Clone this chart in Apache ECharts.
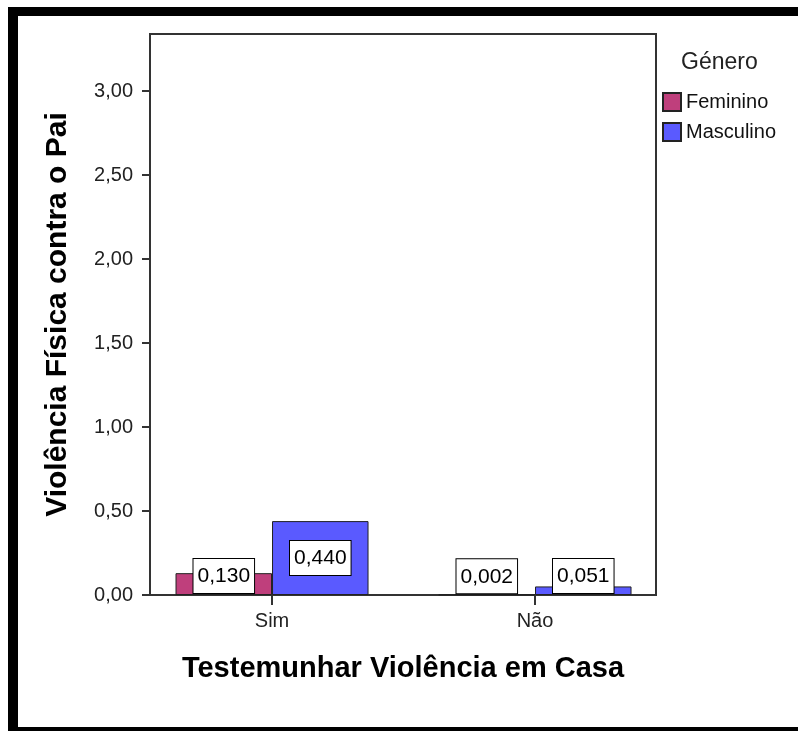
<!DOCTYPE html>
<html>
	<head>
		<meta charset="utf-8">
		<title>Violência Física contra o Pai</title>
		<script src="https://cdn.jsdelivr.net/npm/echarts@6/dist/echarts.min.js"></script>
		<style>
			html, body { margin: 0; padding: 0; background: #fff; }
		</style>
	</head>
	<body>
		<div id="chart" style="width:798px;height:731px;"></div>
		<script>
			// dados
			var categorias = ['Sim', 'Não'];
			var feminino = [0.130, 0.002];
			var masculino = [0.440, 0.051];
			var eixoMax = 3.34;
			var eixoIntervalo = 0.5;

			var fonte = 'Liberation Sans, Arial, sans-serif';

			function virgula(v, casas) {
				return v.toFixed(casas).replace('.', ',');
			}

			function rotulo(v) {
				return {
					show: true,
					position: v > 0.2 ? 'inside' : 'insideBottom',
					distance: 2,
					formatter: function (p) { return virgula(p.value[1], 3); },
					fontFamily: fonte,
					fontSize: 21,
					color: '#000',
					backgroundColor: '#fff',
					borderColor: '#000',
					borderWidth: 1,
					padding: [7, 4, 6, 4]
				};
			}

			// posição de cada grupo = índice da categoria
			function serie(nome, valores, cor) {
				return {
					name: nome,
					type: 'bar',
					barWidth: 96.5,
					barGap: '0%',
					itemStyle: { color: cor, borderColor: '#222', borderWidth: 1 },
					data: valores.map(function (v, i) {
						return { value: [i, v], label: rotulo(v) };
					})
				};
			}

			var indices = categorias.map(function (c, i) { return i; });

			var chart = echarts.init(document.getElementById('chart'), null, { renderer: 'canvas' });

			var option = {
				animation: false,
				textStyle: { fontFamily: fonte },
				graphic: [
					{ type: 'rect', shape: { x: 8, y: 7, width: 790, height: 9 }, style: { fill: '#000' } },
					{ type: 'rect', shape: { x: 8, y: 7, width: 10, height: 724 }, style: { fill: '#000' } },
					{ type: 'rect', shape: { x: 8, y: 727, width: 790, height: 4 }, style: { fill: '#000' } }
				],
				title: {
					text: 'Género',
					left: 681,
					top: 51,
					padding: 0,
					textStyle: { fontFamily: fonte, fontSize: 23, fontWeight: 'normal', color: '#222' }
				},
				legend: {
					orient: 'vertical',
					left: 662,
					top: 92,
					padding: 0,
					itemWidth: 18,
					itemHeight: 18,
					itemGap: 10,
					icon: 'rect',
					textStyle: { fontFamily: fonte, fontSize: 20, color: '#111' },
					data: ['Feminino', 'Masculino']
				},
				grid: {
					left: 150,
					top: 34,
					right: 142,
					bottom: 136,
					show: true,
					borderColor: '#333',
					borderWidth: 2,
					containLabel: false
				},
				xAxis: {
					type: 'value',
					min: -0.464,
					max: 1.46,
					name: 'Testemunhar Violência em Casa',
					nameLocation: 'middle',
					nameGap: 59,
					nameTextStyle: { fontFamily: fonte, fontSize: 29, fontWeight: 'bold', color: '#000' },
					axisLine: { show: true, onZero: false, lineStyle: { color: '#333', width: 2 } },
					axisTick: { show: true, customValues: indices, length: 10, lineStyle: { color: '#333', width: 2 } },
					axisLabel: {
						customValues: indices,
						fontFamily: fonte,
						fontSize: 20,
						color: '#222',
						margin: 16,
						formatter: function (v) { return categorias[Math.round(v)]; }
					},
					splitLine: { show: false }
				},
				yAxis: {
					type: 'value',
					min: 0,
					max: eixoMax,
					interval: eixoIntervalo,
					name: 'Violência Física contra o Pai',
					nameLocation: 'middle',
					nameGap: 77,
					nameRotate: 90,
					nameTextStyle: { fontFamily: fonte, fontSize: 30, fontWeight: 'bold', color: '#000' },
					axisLine: { show: true, onZero: false, lineStyle: { color: '#333', width: 2 } },
					axisTick: { show: true, length: 8, lineStyle: { color: '#333', width: 2 } },
					axisLabel: {
						fontFamily: fonte,
						fontSize: 20,
						color: '#222',
						margin: 17,
						showMaxLabel: false,
						formatter: function (v) { return virgula(v, 2); }
					},
					splitLine: { show: false }
				},
				series: [
					serie('Feminino', feminino, '#bf3f7c'),
					serie('Masculino', masculino, '#5a5aff')
				]
			};

			chart.setOption(option);
			window.onresize = function () {
				chart.resize();
			};
		</script>
	</body>
</html>
